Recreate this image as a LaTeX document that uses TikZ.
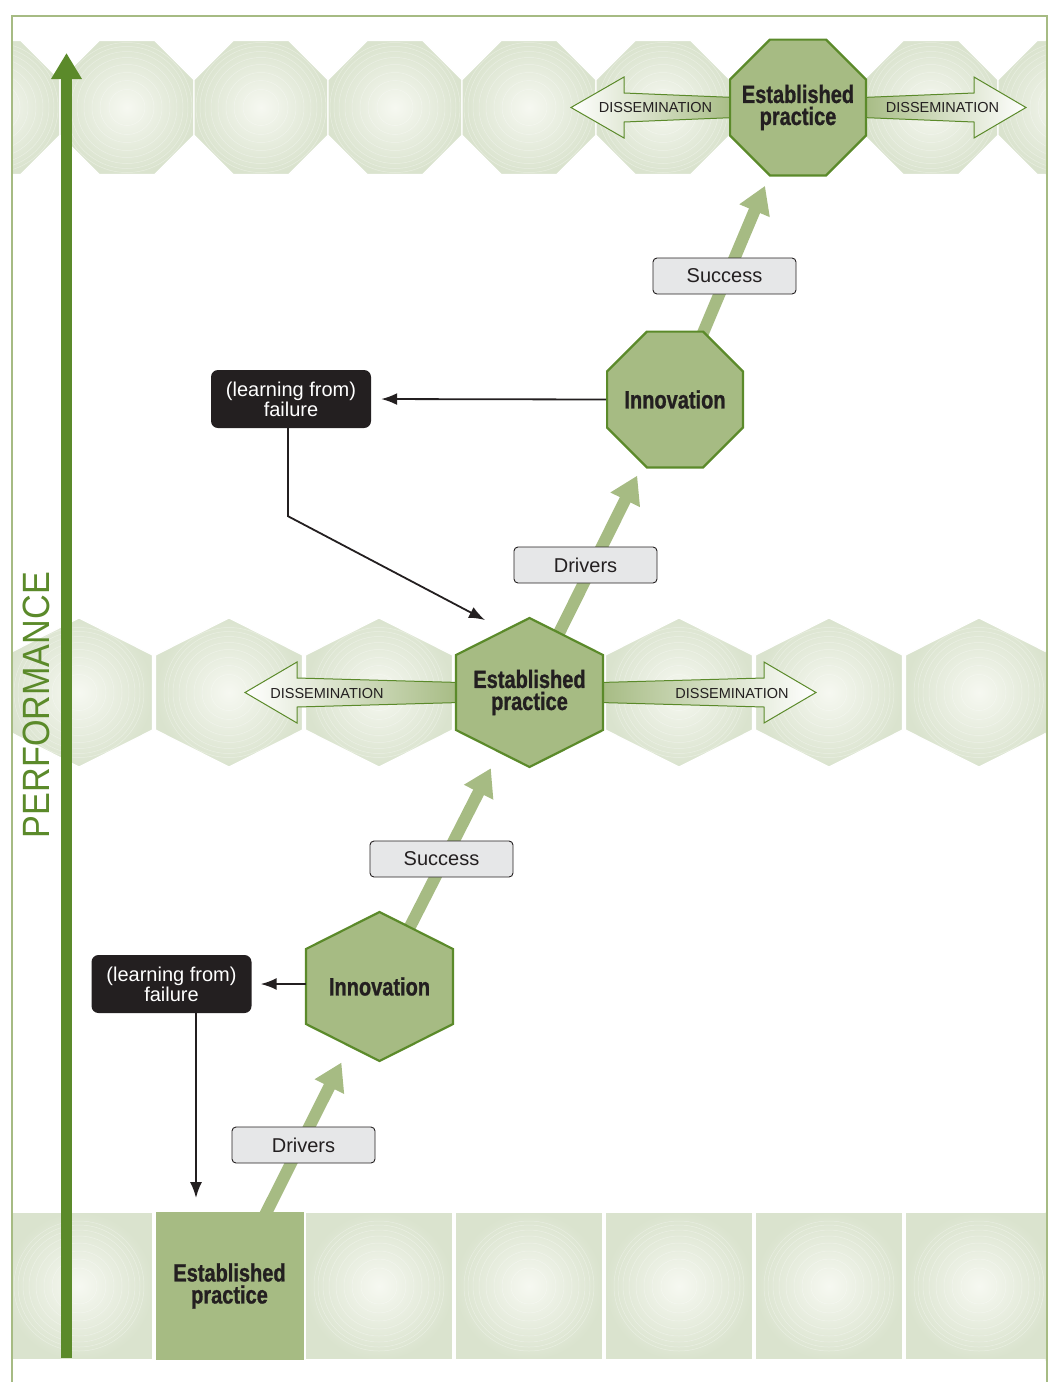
\documentclass[tikz,border=0pt]{standalone}
\usepackage{fontspec}
\setmainfont{Liberation Sans}
\newfontfamily\heavyfont[FakeStretch=0.8,FakeBold=1]{Liberation Sans}
\newfontfamily\perffont[FakeStretch=0.9]{Liberation Sans}
\usetikzlibrary{arrows.meta,shapes.geometric}

\definecolor{sage}{HTML}{A6BB83}
\definecolor{leaf}{HTML}{5B8A2A}
\definecolor{cellout}{HTML}{DAE3CE}
\definecolor{cellin}{HTML}{F6F8F1}
\definecolor{ink}{HTML}{231F20}
\definecolor{tagfill}{HTML}{E6E7E8}

\pgfdeclarelayer{cells}
\pgfdeclarelayer{links}
\pgfsetlayers{cells,links,main}

% hexagon with pointed top, centre (#1,#2)
\newcommand\hexat[3]{%
  \path[#3] (#1-73.5,#2-37.5) -- (#1,#2-74.5) -- (#1+73.5,#2-37.5)
    -- (#1+73.5,#2+37.5) -- (#1,#2+74.5) -- (#1-73.5,#2+37.5) -- cycle;}
% faint rings inside a cell
\newcommand\rings[2]{%
  \foreach \r in {18,27,35,43,50,56,61,65}{\draw[ring] (#1,#2) circle (\r);}}
% base x, head x, tip x, y, shading
\newcommand\dissarrow[5]{%
  \path[disspath,#5] (#1,#4-10) -- (#2,#4-14.5) -- (#2,#4-30.5) -- (#3,#4)
    -- (#2,#4+30.5) -- (#2,#4+14.5) -- (#1,#4+10) -- cycle;}

\begin{document}
\begin{tikzpicture}[x=1pt,y=-1pt,
    bgcell/.style={draw=white,line width=1.2pt,inner color=cellin,outer color=cellout},
    bgoct/.style={regular polygon,regular polygon sides=8,minimum size=145pt,inner sep=0pt,bgcell},
    ring/.style={white,opacity=.35,line width=.5pt},
    keyfont/.style={font=\heavyfont\bfseries\fontsize{25}{22}\selectfont,text=ink,align=center},
    keyshape/.style={fill=sage,draw=leaf,line width=2.2pt},
    keyoct/.style={regular polygon,regular polygon sides=8,minimum size=147pt,inner sep=-25pt,keyshape,keyfont},
    keyhex/.style={minimum width=147pt,minimum height=149pt,inner sep=0pt,keyfont},
    growth/.style={sage,line width=12pt,-{Triangle[length=27pt,width=31pt]},shorten >=85pt},
    tag/.style={draw=ink,line width=.9pt,fill=tagfill,rounded corners=4pt,minimum width=143pt,
      minimum height=36pt,text=ink,font=\fontsize{20}{22}\selectfont},
    failbox/.style={fill=ink,text=white,rounded corners=7pt,minimum width=160pt,minimum height=58pt,
      align=center,font=\fontsize{20}{20}\selectfont},
    flow/.style={ink,line width=1.8pt,-{Latex[length=16pt,width=12pt]}},
    disspath/.style={draw=leaf,line width=1pt},
    disstext/.style={text=ink,font=\fontsize{14.5}{15}\selectfont},
    perf/.style={leaf,line width=11pt,-{Triangle[length=26pt,width=29pt]}},
    pageframe/.style={sage,line width=2pt}]
  \useasboundingbox (0,0) rectangle (1049,1382);

  % background rows
  \begin{pgfonlayer}{cells}
    \begin{scope}
      \clip (12.5,16.5) rectangle (1045.5,1382);
      \foreach \x [count=\i] in {-7,127,...,1065}{
        \node[bgoct] (cellT\i) at (\x,107.5) {};
        \rings{\x}{107.5}
      }
      \foreach \x in {79,229,...,979}{
        \hexat{\x}{692.5}{bgcell}
        \rings{\x}{692.5}
        \path[bgcell] (\x-74,1212) rectangle (\x+74,1360);
        \rings{\x}{1286}
      }
    \end{scope}
  \end{pgfonlayer}

  \draw[pageframe] (11.5,1382) -- (11.5,15.5) -- (1046.5,15.5) -- (1046.5,1382);

  % key steps
  \node[keyoct] (estTop) at (798,107.5) {Established\\practice};
  \node[keyoct] (innoTop) at (675,399.5) {Innovation};
  \hexat{529.5}{692.5}{keyshape}
  \node[keyhex] (estMid) at (529.5,692.5) {Established\\practice};
  \hexat{379.5}{986.5}{keyshape}
  \node[keyhex] (innoLow) at (379.5,986.5) {Innovation};
  \fill[sage] (155.5,1212) rectangle (303.5,1360);
  \node[keyhex,minimum width=148pt,minimum height=148pt] (estLow) at (229.5,1286) {Established\\practice};

  \begin{pgfonlayer}{links}
    \draw[growth] (estLow.center) -- (innoLow.center);
    \draw[growth] (innoLow.center) -- (estMid.center);
    \draw[growth] (estMid.center) -- (innoTop.center);
    \draw[growth] (innoTop.center) -- (estTop.center);
    \dissarrow{735}{624}{571}{107.5}{left color=white,right color=sage}
    \dissarrow{862}{974}{1026}{107.5}{left color=sage,right color=white}
    \dissarrow{460}{297}{245}{692.5}{left color=white,right color=sage}
    \dissarrow{600}{764}{816}{692.5}{left color=sage,right color=white}
  \end{pgfonlayer}

  \node[disstext] (dissTL) at (655.5,107.5) {DISSEMINATION};
  \node[disstext] (dissTR) at (942.5,107.5) {DISSEMINATION};
  \node[disstext] (dissML) at (327,693) {DISSEMINATION};
  \node[disstext] (dissMR) at (732,693) {DISSEMINATION};

  % labels on the climb
  \node[tag] (succTop) at (724.5,276) {Success};
  \node[tag] (drvMid) at (585.5,565) {Drivers};
  \node[tag] (succLow) at (441.5,859) {Success};
  \node[tag] (drvLow) at (303.5,1145) {Drivers};

  % failure loops
  \node[failbox] (failTop) at (291,399) {(learning from)\\failure};
  \node[failbox] (failLow) at (171.5,984) {(learning from)\\failure};
  \coordinate (midHit) at (485,620);
  \coordinate (lowHit) at (196,1198);
  \draw[flow,shorten >=10pt] (innoTop.west) -- (failTop.east);
  \draw[flow] ([xshift=-3pt]failTop.south) -- ++(0,88) -- (midHit);
  \draw[flow,shorten >=9pt] (innoLow.west |- failLow) -- (failLow.east);
  \draw[flow] (lowHit |- failLow.south) -- (lowHit);

  % performance axis
  \coordinate (perfFoot) at (66.5,1358);
  \coordinate (perfTip) at (66.5,53);
  \draw[perf] (perfFoot) -- (perfTip);
  \node[rotate=90,text=leaf,font=\perffont\fontsize{38}{38}\selectfont] (perfLabel) at (36,705) {PERFORMANCE};
\end{tikzpicture}
\end{document}
